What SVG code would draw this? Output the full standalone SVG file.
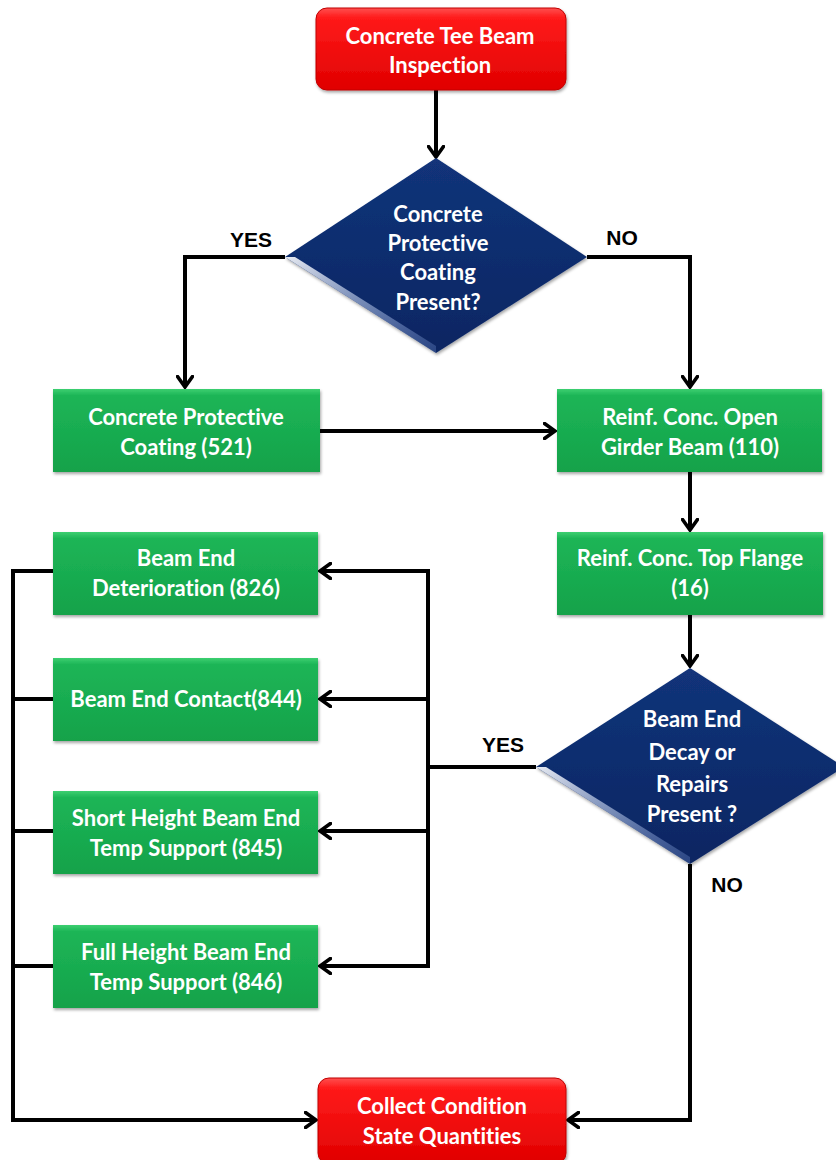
<svg xmlns="http://www.w3.org/2000/svg" width="836" height="1160" viewBox="0 0 836 1160">
<defs>
<linearGradient id="gRed" x1="0" y1="0" x2="0" y2="1">
<stop offset="0" stop-color="#ff5050"/><stop offset="0.12" stop-color="#ff1a1a"/><stop offset="1" stop-color="#e00000"/>
</linearGradient>
<linearGradient id="gGreen" x1="0" y1="0" x2="0" y2="1">
<stop offset="0" stop-color="#3ccf70"/><stop offset="0.08" stop-color="#1db556"/><stop offset="1" stop-color="#14a24a"/>
</linearGradient>
<linearGradient id="gNavy" x1="0" y1="0" x2="0" y2="1">
<stop offset="0" stop-color="#12347a"/><stop offset="1" stop-color="#0b2662"/>
</linearGradient>
<linearGradient id="gBevel" x1="0" y1="0" x2="1" y2="1">
<stop offset="0" stop-color="#ffffff" stop-opacity="0.9"/><stop offset="1" stop-color="#6f8fd0" stop-opacity="0.3"/>
</linearGradient>
<filter id="sh" x="-10%" y="-10%" width="120%" height="130%">
<feDropShadow dx="1" dy="2" stdDeviation="1.5" flood-color="#000" flood-opacity="0.35"/>
</filter>
<marker id="arr" viewBox="0 0 14 18" refX="12" refY="9" markerWidth="14" markerHeight="18" markerUnits="userSpaceOnUse" orient="auto">
<path d="M1.5,1.5 L12,9 L1.5,16.5" fill="none" stroke="#000" stroke-width="3.6" stroke-linecap="round" stroke-linejoin="miter"/>
</marker>
</defs>
<style>
.red{fill:url(#gRed);stroke:#c00000;stroke-width:1;filter:url(#sh)}
.green{fill:url(#gGreen);filter:url(#sh)}
.navy{fill:url(#gNavy);filter:url(#sh)}
.t{font-family:Lato,"Open Sans","Liberation Sans",sans-serif;font-weight:700;font-size:22px;fill:#ffffff;text-anchor:middle;font-variant-ligatures:none}
.lbl{font-family:"Liberation Sans",Arial,sans-serif;font-weight:700;font-size:21px;fill:#000;text-anchor:middle}
.ln{fill:none;stroke:#000;stroke-width:4}
.ar{fill:none;stroke:#000;stroke-width:4;marker-end:url(#arr)}
</style>
<rect width="836" height="1160" fill="#ffffff"/>
<g id="connectors">
<path class="ar" d="M436,90 V157"/>
<path class="ar" d="M285,257 H185 V387"/>
<path class="ar" d="M587,257 H690 V387"/>
<path class="ar" d="M320,431 H555"/>
<path class="ar" d="M690,472 V530"/>
<path class="ar" d="M690,615 V666"/>
<path class="ln" d="M536,767 H428"/>
<path class="ln" d="M428,571 V966"/>
<path class="ar" d="M430,571 H320"/>
<path class="ar" d="M430,699 H320"/>
<path class="ar" d="M430,831 H320"/>
<path class="ar" d="M430,966 H320"/>
<path class="ln" d="M53,571 H13"/>
<path class="ln" d="M53,699 H13"/>
<path class="ln" d="M53,831 H13"/>
<path class="ln" d="M53,966 H13"/>
<path class="ar" d="M13,569 V1120 H316"/>
<path class="ar" d="M690,864 V1120 H568"/>
<text class="lbl" x="251" y="247">YES</text>
<text class="lbl" x="622" y="245">NO</text>
<text class="lbl" x="503" y="752">YES</text>
<text class="lbl" x="727" y="892">NO</text>
</g>
<g id="start">
<rect class="red" x="316" y="8" width="250" height="82" rx="11"/>
<text class="t" x="440" y="44">Concrete Tee Beam</text>
<text class="t" x="440" y="73">Inspection</text>
</g>
<g id="decision1">
<polygon class="navy" points="436,158 587,257 436,353 285,257"/>
<polygon points="285,257 436,353 436,346 295,257" fill="url(#gBevel)"/>
<text class="t" x="438" y="222">Concrete</text>
<text class="t" x="438" y="251">Protective</text>
<text class="t" x="438" y="280">Coating</text>
<text class="t" x="438" y="310">Present?</text>
</g>
<g id="coating">
<rect class="green" x="53" y="389" width="267" height="83"/>
<text class="t" x="186" y="425">Concrete Protective</text>
<text class="t" x="186" y="455">Coating (521)</text>
</g>
<g id="girder">
<rect class="green" x="557" y="389" width="265" height="83"/>
<text class="t" x="690" y="425">Reinf. Conc. Open</text>
<text class="t" x="690" y="455">Girder Beam (110)</text>
</g>
<g id="flange">
<rect class="green" x="557" y="532" width="266" height="83"/>
<text class="t" x="690" y="566">Reinf. Conc. Top Flange</text>
<text class="t" x="690" y="596">(16)</text>
</g>
<g id="decision2">
<polygon class="navy" points="690,668 844,767 690,864 536,767"/>
<polygon points="536,767 690,864 690,857 546,767" fill="url(#gBevel)"/>
<text class="t" x="692" y="727">Beam End</text>
<text class="t" x="692" y="760">Decay or</text>
<text class="t" x="692" y="792">Repairs</text>
<text class="t" x="692" y="822">Present ?</text>
</g>
<g id="deterioration">
<rect class="green" x="53" y="532" width="265" height="83"/>
<text class="t" x="186" y="566">Beam End</text>
<text class="t" x="186" y="596">Deterioration (826)</text>
</g>
<g id="contact">
<rect class="green" x="53" y="658" width="265" height="83"/>
<text class="t" x="186" y="707">Beam End Contact(844)</text>
</g>
<g id="short">
<rect class="green" x="53" y="791" width="265" height="83"/>
<text class="t" x="186" y="826">Short Height Beam End</text>
<text class="t" x="186" y="856">Temp Support (845)</text>
</g>
<g id="full">
<rect class="green" x="53" y="925" width="265" height="83"/>
<text class="t" x="186" y="960">Full Height Beam End</text>
<text class="t" x="186" y="990">Temp Support (846)</text>
</g>
<g id="collect">
<rect class="red" x="318" y="1078" width="248" height="86" rx="11"/>
<text class="t" x="442" y="1114">Collect Condition</text>
<text class="t" x="442" y="1144">State Quantities</text>
</g>
</svg>
